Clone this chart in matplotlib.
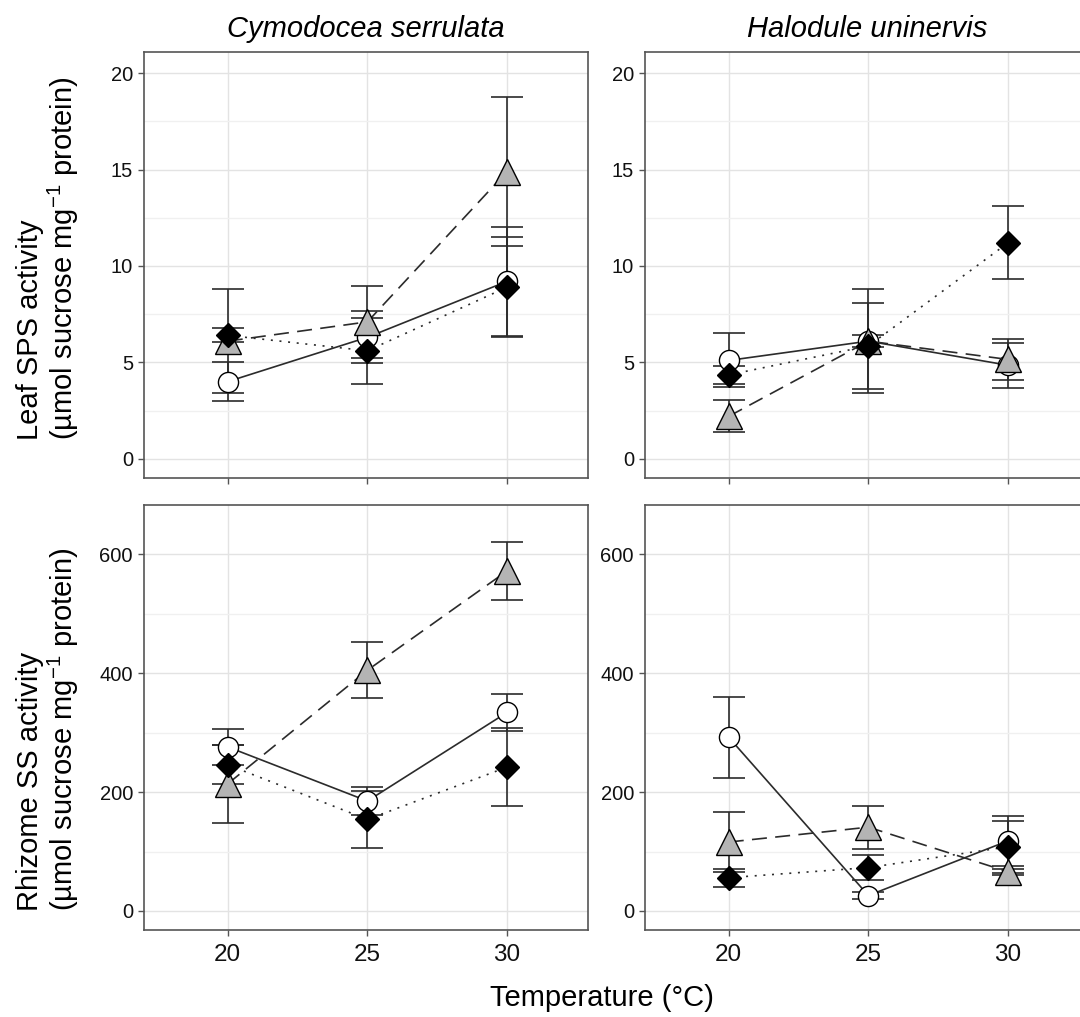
import matplotlib
matplotlib.use("Agg")
import matplotlib.pyplot as plt
from matplotlib.ticker import MultipleLocator

plt.rcParams['font.family'] = ['Liberation Sans', 'DejaVu Sans']
plt.rcParams['mathtext.fontset'] = 'custom'
plt.rcParams['mathtext.rm'] = 'Liberation Sans'
plt.rcParams['mathtext.it'] = 'Liberation Sans:italic'

temps = [20, 25, 30]
species = ['Cymodocea serrulata', 'Halodule uninervis']

# leaf SPS activity (mean, SE) per series
cs_sps_open = [4.0, 6.3, 9.2]
cs_sps_open_se = [1.0, 1.35, 2.83]
cs_sps_grey = [6.1, 7.1, 14.9]
cs_sps_grey_se = [2.7, 1.85, 3.85]
cs_sps_black = [6.4, 5.6, 8.9]
cs_sps_black_se = [0.37, 1.7, 2.6]

hu_sps_open = [5.1, 6.1, 4.85]
hu_sps_open_se = [1.4, 2.68, 1.17]
hu_sps_grey = [2.2, 6.1, 5.15]
hu_sps_grey_se = [0.83, 0.3, 1.05]
hu_sps_black = [4.35, 5.85, 11.2]
hu_sps_black_se = [0.46, 2.25, 1.9]

# rhizome SS activity
cs_ss_open = [276, 185, 334]
cs_ss_open_se = [30, 24, 31]
cs_ss_grey = [214, 405, 572]
cs_ss_grey_se = [66, 47, 49]
cs_ss_black = [246, 154, 242]
cs_ss_black_se = [33, 48, 66]

hu_ss_open = [292, 26, 118]
hu_ss_open_se = [68, 6, 42]
hu_ss_grey = [116, 141, 66]
hu_ss_grey_se = [51, 36, 5]
hu_ss_black = [56, 73, 108]
hu_ss_black_se = [15, 21, 44]

W, H = 1080, 1017
fig = plt.figure(figsize=(W / 100, H / 100), dpi=100)

def px_axes(left, top, right, bottom):
    return fig.add_axes([left / W, 1 - bottom / H, (right - left) / W, (bottom - top) / H])

axes = [[px_axes(144, 52, 588, 478), px_axes(645, 52, 1089, 478)],
        [px_axes(144, 505, 588, 930), px_axes(645, 505, 1089, 930)]]

panels = [
    [(cs_sps_open, cs_sps_open_se, cs_sps_grey, cs_sps_grey_se, cs_sps_black, cs_sps_black_se),
     (hu_sps_open, hu_sps_open_se, hu_sps_grey, hu_sps_grey_se, hu_sps_black, hu_sps_black_se)],
    [(cs_ss_open, cs_ss_open_se, cs_ss_grey, cs_ss_grey_se, cs_ss_black, cs_ss_black_se),
     (hu_ss_open, hu_ss_open_se, hu_ss_grey, hu_ss_grey_se, hu_ss_black, hu_ss_black_se)],
]

line_col = '#2b2b2b'
for r in range(2):
    for c in range(2):
        ax = axes[r][c]
        o, ose, g, gse, b, bse = panels[r][c]
        for vals, se in [(o, ose), (g, gse), (b, bse)]:
            ax.errorbar(temps, vals, yerr=se, fmt='none', ecolor=line_col,
                        elinewidth=1.2, capsize=11.5, capthick=1.2, zorder=3)
        ax.plot(temps, o, color=line_col, lw=1.2, ls='-', marker='o', ms=14.5,
                mfc='white', mec='black', mew=1.0, zorder=4)
        ax.plot(temps, g, color=line_col, lw=1.2, dashes=[9, 5], marker='^', ms=18.5,
                mfc='#b4b4b4', mec='black', mew=1.0, zorder=5)
        ax.plot(temps, b, color=line_col, lw=1.2, dashes=[1.2, 4], marker='D', ms=12,
                mfc='black', mec='black', mew=1.0, zorder=6)

        ax.set_xlim(17, 32.9)
        ax.set_xticks(temps)
        if r == 0:
            ax.set_ylim(-1.0, 21.1)
            ax.yaxis.set_major_locator(MultipleLocator(5))
            ax.yaxis.set_minor_locator(MultipleLocator(2.5))
            ax.tick_params(axis='x', labelbottom=False)
            ax.set_title(species[c], fontsize=21, style='italic', pad=11)
        else:
            ax.set_ylim(-32, 683)
            ax.yaxis.set_major_locator(MultipleLocator(200))
            ax.yaxis.set_minor_locator(MultipleLocator(100))
        ax.grid(which='major', color='#e3e3e3', lw=1.0, zorder=0)
        ax.grid(which='minor', axis='y', color='#f0f0f0', lw=1.0, zorder=0)
        ax.set_axisbelow(True)
        ax.tick_params(which='major', direction='out', length=4, width=1,
                       color='#555555', labelcolor='#111111')
        ax.tick_params(axis='x', labelsize=17.5, pad=6)
        ax.tick_params(axis='y', labelsize=14.5, pad=4)
        ax.tick_params(which='minor', length=0)
        for sp in ax.spines.values():
            sp.set_color('#555555')
            sp.set_linewidth(1.2)

# y labels, left aligned along the rotated baseline
unit = '(µmol sucrose mg$^{-1}$ protein)'
for y0, first in [(440, 'Leaf SPS activity'), (911, 'Rhizome SS activity')]:
    fig.text(30 / W, 1 - y0 / H, first, rotation=90, rotation_mode='anchor',
             ha='left', va='center', fontsize=21)
    fig.text(63 / W, 1 - y0 / H, unit, rotation=90, rotation_mode='anchor',
             ha='left', va='center', fontsize=21)

fig.text(602 / W, 1 - 998 / H, 'Temperature (°C)', ha='center', va='center', fontsize=21)

fig.savefig('out.png', dpi=100)
